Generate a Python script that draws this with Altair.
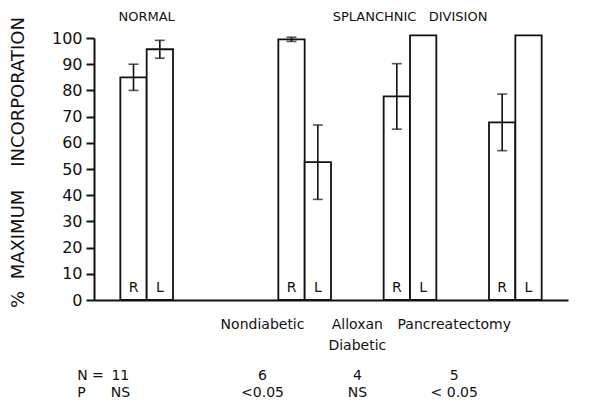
import altair as alt
import pandas as pd

# values
groups = ["NORMAL", "Nondiabetic", "Alloxan Diabetic", "Pancreatectomy"]
r_mean = [85.0, 99.5, 77.7, 67.8]
r_err = [5.0, 0.8, 12.5, 10.8]
l_mean = [95.7, 52.6, 101.0, 101.0]
l_err = [3.4, 14.2, 0.0, 0.0]
cat_labels = ["", "Nondiabetic", "Alloxan\nDiabetic", "Pancreatectomy"]
n_vals = ["11", "6", "4", "5"]
p_vals = ["NS", "<0.05", "NS", "< 0.05"]
headers = ["NORMAL", "SPLANCHNIC\u00a0\u00a0\u00a0DIVISION"]
y_ticks = [0, 10, 20, 30, 40, 50, 60, 70, 80, 90, 100]

# layout (x in "slot" units)
GROUP_X = [0.5, 2.0, 3.0, 4.0]
HEADER_X = [0.5, 3.0]
TEXT_SHIFT = [-0.25, -0.4, -0.5, -0.58]
BAR_W = 0.25
FONT = "DejaVu Sans"
INK = "#111111"

rows = []
for g, gx, rm, re, lm, le in zip(groups, GROUP_X, r_mean, r_err, l_mean, l_err):
    rows.append(dict(group=g, side="R", value=rm, err=re, x0=gx - BAR_W, x1=gx))
    rows.append(dict(group=g, side="L", value=lm, err=le, x0=gx, x1=gx + BAR_W))
bars = pd.DataFrame(rows)
bars["xc"] = (bars["x0"] + bars["x1"]) / 2
bars["lo"] = bars["value"] - bars["err"]
bars["hi"] = bars["value"] + bars["err"]
errs = bars[bars["err"] > 0]

xs = alt.Scale(domain=[0, 4.5], nice=False, zero=False)
ys = alt.Scale(domain=[0, 100], nice=False)

X_AXIS = alt.Axis(
    domain=True, ticks=False, labels=False, grid=False, title=None,
    domainColor=INK, domainWidth=2,
)
Y_AXIS = alt.Axis(
    values=y_ticks,
    tickCount=11,
    labelOverlap=False,
    grid=False,
    domainColor=INK,
    domainWidth=2,
    tickColor=INK,
    tickWidth=2,
    tickSize=8,
    labelFont=FONT,
    labelFontSize=16,
    labelColor=INK,
    labelPadding=4,
    title="%\u00a0\u00a0MAXIMUM\u00a0\u00a0\u00a0\u00a0INCORPORATION",
    titleFont=FONT,
    titleFontSize=18,
    titleFontWeight="normal",
    titleColor=INK,
    titleAngle=270,
    titleAlign="center",
    titleBaseline="alphabetic",
    titleX=-71,
    titleY=124,
)


def xq(field):
    return alt.X(field, scale=xs, axis=X_AXIS)


def yq(field):
    return alt.Y(field, scale=ys, axis=Y_AXIS)


def yd(v):
    return alt.YDatum(v, scale=ys, axis=Y_AXIS)


bar_layer = (
    alt.Chart(bars)
    .mark_bar(fill="white", stroke=INK, strokeWidth=1.8)
    .encode(x=xq("x0:Q"), x2="x1:Q", y=yq("value:Q"), y2=alt.datum(0))
)

err_rule = (
    alt.Chart(errs)
    .mark_rule(color=INK, strokeWidth=1.6)
    .encode(x=xq("xc:Q"), y=yq("lo:Q"), y2="hi:Q")
)
cap_lo = (
    alt.Chart(errs)
    .mark_tick(orient="horizontal", color=INK, size=10, thickness=1.6)
    .encode(x=xq("xc:Q"), y=yq("lo:Q"))
)
cap_hi = (
    alt.Chart(errs)
    .mark_tick(orient="horizontal", color=INK, size=10, thickness=1.6)
    .encode(x=xq("xc:Q"), y=yq("hi:Q"))
)

side_text = (
    alt.Chart(bars)
    .mark_text(font=FONT, fontSize=14, color=INK, baseline="alphabetic", dy=-8)
    .encode(x=xq("xc:Q"), y=yd(0), text="side:N")
)

head_df = pd.DataFrame({"x": HEADER_X, "t": headers})
head_text = (
    alt.Chart(head_df)
    .mark_text(font=FONT, fontSize=13, color=INK, baseline="alphabetic", dy=-17)
    .encode(x=xq("x:Q"), y=yd(100), text="t:N")
)

ann = pd.DataFrame(
    {
        "x": [gx + s for gx, s in zip(GROUP_X, TEXT_SHIFT)],
        "label": cat_labels,
        "n": n_vals,
        "p": p_vals,
    }
)
label_text = (
    alt.Chart(ann)
    .mark_text(font=FONT, fontSize=14, color=INK, baseline="alphabetic",
               dy=29, lineBreak="\n", lineHeight=21)
    .encode(x=xq("x:Q"), y=yd(0), text="label:N")
)
n_text = (
    alt.Chart(ann)
    .mark_text(font=FONT, fontSize=14, color=INK, baseline="alphabetic", dy=80)
    .encode(x=xq("x:Q"), y=yd(0), text="n:N")
)
p_text = (
    alt.Chart(ann)
    .mark_text(font=FONT, fontSize=14, color=INK, baseline="alphabetic", dy=97)
    .encode(x=xq("x:Q"), y=yd(0), text="p:N")
)
row_df = pd.DataFrame({"t": ["N =", "P"]})
row_n = (
    alt.Chart(row_df.head(1))
    .mark_text(font=FONT, fontSize=14, color=INK, align="left", baseline="alphabetic", dy=80)
    .encode(x=alt.XDatum(-0.16, scale=xs, axis=X_AXIS), y=yd(0), text="t:N")
)
row_p = (
    alt.Chart(row_df.tail(1))
    .mark_text(font=FONT, fontSize=14, color=INK, align="left", baseline="alphabetic", dy=97)
    .encode(x=alt.XDatum(-0.16, scale=xs, axis=X_AXIS), y=yd(0), text="t:N")
)

chart = (
    alt.layer(
        bar_layer, err_rule, cap_lo, cap_hi, side_text, head_text,
        label_text, n_text, p_text, row_n, row_p,
    )
    .properties(
        width=474,
        height=262,
        autosize=alt.AutoSizeParams(type="none"),
        padding={"left": 86, "top": 30, "right": 20, "bottom": 102},
        background="white",
    )
    .configure_view(stroke=None)
)

chart.save("out.html", embed_options={"renderer": "svg", "actions": False})
